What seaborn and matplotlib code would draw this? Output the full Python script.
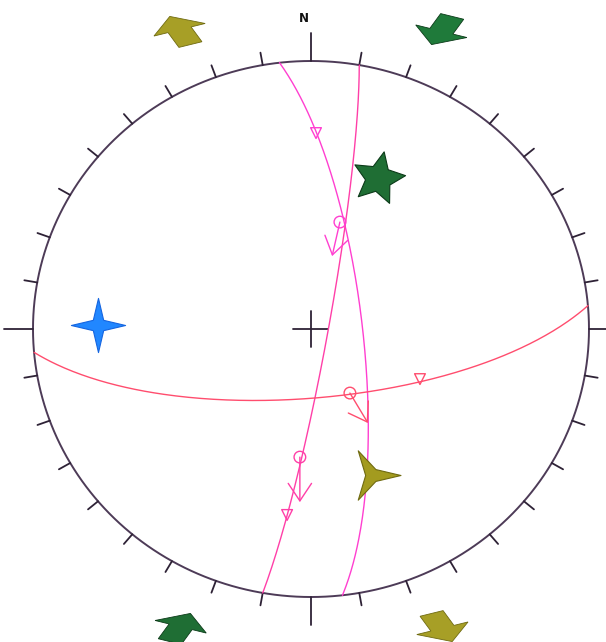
import numpy as np
import pandas as pd
import matplotlib
matplotlib.use("Agg")
import matplotlib.pyplot as plt
import seaborn as sns
from matplotlib.path import Path
from matplotlib.markers import MarkerStyle

# ---- fault planes (right-hand-rule strike, dip) ----
plane_names = ["A", "B", "C"]
plane_strike = [353.5, 10.0, 85.0]
plane_dip = [75.0, 85.0, 69.0]
plane_colors = ["#ff3fd0", "#ff3fa8", "#ff4d6e"]

# ---- striae points (projected x, y) and slip arrows ----
striae_x = [0.104, 0.140, -0.040]
striae_y = [0.399, -0.239, -0.478]
slip_tip_x = [0.076, 0.205, -0.040]
slip_tip_y = [0.272, -0.351, -0.646]
striae_colors = ["#ff3fd0", "#ff4d6e", "#ff3fa8"]

# ---- plane markers (open triangles) ----
tri_x = [0.018, 0.392, -0.086]
tri_y = [0.731, -0.187, -0.694]
tri_colors = ["#ff3fd0", "#ff4d6e", "#ff3fa8"]

# ---- principal stress axes (projected x, y) ----
sigma_names = ["sigma1", "sigma2", "sigma3"]
sigma_x = [0.241, -0.766, 0.219]
sigma_y = [0.563, 0.015, -0.545]
sigma_colors = ["#1f6e34", "#2187ff", "#a39b1f"]
sigma_edges = ["#0b3a18", "#1565e0", "#6f6a10"]

# ---- horizontal stress arrows outside the net ----
arrow_az = [23.0, 203.0, 337.0, 157.0]
arrow_inward = [True, True, False, False]
arrow_colors = ["#1f7a3a", "#1f6e34", "#a79f26", "#a79f26"]

tick_step = 10
north_label = "N"


def project(trend, plunge):
    """Equal-area (Schmidt) lower-hemisphere projection, angles in degrees."""
    t = np.radians(trend)
    r = np.sqrt(2.0) * np.sin(np.radians(90.0 - np.asarray(plunge)) / 2.0)
    return r * np.sin(t), r * np.cos(t)


def great_circle(strike, dip, n=241):
    s = np.radians(strike)
    dd = np.radians(strike + 90.0)
    d = np.radians(dip)
    sv = np.array([np.sin(s), np.cos(s), 0.0])
    dv = np.array([np.sin(dd) * np.cos(d), np.cos(dd) * np.cos(d), np.sin(d)])
    t = np.linspace(0.0, np.pi, n)
    v = np.outer(np.cos(t), sv) + np.outer(np.sin(t), dv)
    plunge = np.degrees(np.arcsin(np.clip(v[:, 2], -1, 1)))
    trend = np.degrees(np.arctan2(v[:, 0], v[:, 1]))
    return project(trend, plunge)


def star_path(points, inner, rot=0.0):
    verts = []
    for k in range(2 * points):
        ang = np.radians(rot + 90.0 - k * 180.0 / points)
        r = 1.0 if k % 2 == 0 else inner
        verts.append((r * np.cos(ang), r * np.sin(ang)))
    verts.append(verts[0])
    codes = [Path.MOVETO] + [Path.LINETO] * (len(verts) - 2) + [Path.CLOSEPOLY]
    return Path(verts, codes)


sns.set_theme(style="white")
plt.rcParams["font.family"] = ["DejaVu Sans"]

fig = plt.figure(figsize=(6.06, 6.42), dpi=100)
ax = fig.add_axes([0, 0, 1, 1])
ax.set_xlim(-1.1187, 1.0612)
ax.set_ylim(-1.1679, 1.2276)
ax.axis("off")

# primitive circle and ticks
th = np.linspace(0, 2 * np.pi, 721)
ax.plot(np.sin(th), np.cos(th), color="#4d3b57", lw=1.4, zorder=2)
for az in range(0, 360, tick_step):
    a = np.radians(az)
    ext = 1.105 if az % 90 == 0 else 1.047
    ax.plot([np.sin(a), ext * np.sin(a)], [np.cos(a), ext * np.cos(a)],
            color="#2e2236", lw=1.3, zorder=2)
ax.text(-0.025, 1.16, north_label, ha="center", va="center",
        fontsize=8.5, fontweight="bold", color="#111111")

# centre cross
ax.plot([-0.066, 0.062], [0, 0], color="#2e2236", lw=1.3)
ax.plot([0, 0], [-0.066, 0.066], color="#2e2236", lw=1.3)

# great circles
for name, stk, dp, col in zip(plane_names, plane_strike, plane_dip, plane_colors):
    gx, gy = great_circle(stk, dp)
    df = pd.DataFrame({"x": gx, "y": gy})
    sns.lineplot(data=df, x="x", y="y", sort=False, estimator=None,
                 color=col, lw=1.0, ax=ax, zorder=3)

# striae circles and slip arrows
for x0, y0, x1, y1, col in zip(striae_x, striae_y, slip_tip_x, slip_tip_y, striae_colors):
    ax.annotate("", xy=(x1, y1), xytext=(x0, y0),
                arrowprops=dict(arrowstyle="->,head_length=0.9,head_width=0.6",
                                color=col, lw=1.0, mutation_scale=14,
                                shrinkA=0, shrinkB=0), zorder=4)
sns.scatterplot(x=striae_x, y=striae_y, marker="o", s=70, facecolors="none",
                edgecolor=striae_colors, linewidth=1.0, ax=ax, zorder=5)
sns.scatterplot(x=tri_x, y=tri_y, marker="v", s=60, facecolors="none",
                edgecolor=tri_colors, linewidth=1.0, ax=ax, zorder=5)

# stress axes symbols
sigma_markers = [
    MarkerStyle(star_path(5, 0.48, rot=-12)),
    MarkerStyle(star_path(4, 0.27)),
    MarkerStyle(star_path(3, 0.24, rot=-90)),
]
sigma_sizes = [39, 39, 41]
for x, y, m, sz, fc, ec in zip(sigma_x, sigma_y, sigma_markers, sigma_sizes,
                                sigma_colors, sigma_edges):
    sns.scatterplot(x=[x], y=[y], marker=m, s=sz ** 2, color=fc,
                    edgecolor=ec, linewidth=0.8, ax=ax, zorder=6)

# block arrows showing horizontal shortening / extension, drawn lying flat
L, hl, hw, sw = 0.19, 0.09, 0.2, 0.09
flat = 0.6
base = np.array([
    [-L / 2, -sw / 2], [L / 2 - hl, -sw / 2], [L / 2 - hl, -hw / 2], [L / 2, 0.0],
    [L / 2 - hl, hw / 2], [L / 2 - hl, sw / 2], [-L / 2, sw / 2]])
for az, inward, col in zip(arrow_az, arrow_inward, arrow_colors):
    a = np.radians(az)
    cx, cy = 1.205 * np.sin(a), 1.21 * np.cos(a)
    ux, uy = np.sin(a), np.cos(a)
    if inward:
        ux, uy = -ux, -uy
    rot = np.array([[ux, -uy], [uy, ux]])
    pts = base @ rot.T
    pts[:, 1] *= flat
    pts += [cx, cy]
    ax.fill(pts[:, 0], pts[:, 1], color=col,
            ec="#6f6a10" if not inward else "#0b3a18", lw=0.6, zorder=6)

fig.savefig("out.png", dpi=100, facecolor="white")
